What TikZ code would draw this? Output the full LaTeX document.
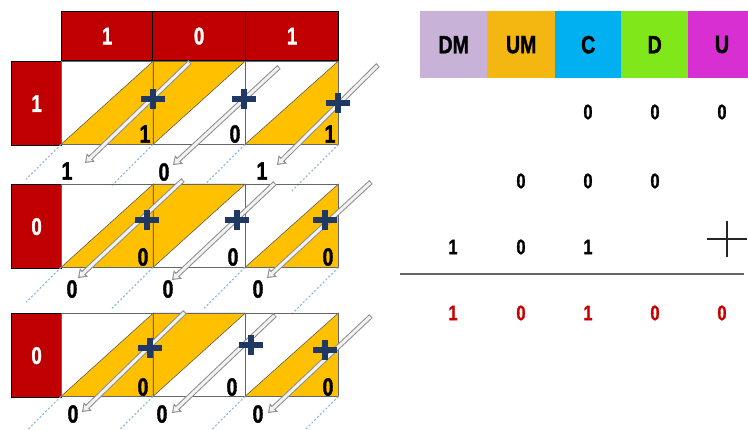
\documentclass[tikz,border=0pt]{standalone}
\usepackage{fontspec}
\setmainfont{Liberation Sans}[FakeStretch=0.78, BoldFeatures={FakeBold=1.3}]
\usetikzlibrary{arrows.meta}
\definecolor{hdrred}{HTML}{C00000}
\definecolor{cellor}{HTML}{FFC000}
\definecolor{navyc}{HTML}{1F3864}
\definecolor{dashblue}{HTML}{5B9BD5}
\definecolor{cDM}{HTML}{C8B2D8}
\definecolor{cUM}{HTML}{F4B610}
\definecolor{cC}{HTML}{00B0F0}
\definecolor{cD}{HTML}{80E81A}
\definecolor{cU}{HTML}{D82FD2}
\definecolor{resred}{HTML}{C80000}
\tikzset{
  redbox/.style={draw=black, line width=1.2pt, fill=hdrred, text=white,
    font=\bfseries\fontsize{24}{24}\selectfont, inner sep=0pt, anchor=north west},
  cellbox/.style={draw=none, minimum width=92pt, minimum height=83pt,
    inner sep=0pt, anchor=north west},
  tri/.style={fill=cellor, draw=black!70, line width=0.5pt},
  digit/.style={font=\bfseries\fontsize{25}{25}\selectfont, text=black, inner sep=0pt},
  tdigit/.style={font=\bfseries\fontsize{21}{21}\selectfont, text=black, inner sep=0pt},
  rdigit/.style={font=\bfseries\fontsize{21}{21}\selectfont, text=resred, inner sep=0pt},
  hdr/.style={font=\bfseries\fontsize{25}{25}\selectfont, text=black, inner sep=0pt,
    minimum height=67pt, anchor=north west},
  arrout/.style={line width=5pt, draw=black!45, -{Triangle[length=8pt,width=11pt]}},
  arrin/.style={line width=3pt, draw=gray!10, shorten >=1.8pt, shorten <=1pt,
    -{Triangle[length=5pt,width=7pt]}},
  dashln/.style={draw=dashblue!75, line width=1pt, dash pattern=on 2pt off 2pt},
  navyplus/.pic={\draw[navyc, line width=5.5pt] (-12,0) -- (12,0) (0,-10) -- (0,10);},
  thinplus/.pic={\draw[black!85, line width=1.5pt] (-20,0) -- (20,0) (0,-18) -- (0,18);}
}
\newcommand{\grayarrow}[2]{\draw[arrout] (#1) -- (#2); \draw[arrin] (#1) -- (#2);}
\begin{document}
\begin{tikzpicture}[x=1pt,y=-1pt]
\useasboundingbox (0,0) rectangle (748,429);
\fill[white] (0,0) rectangle (748,429);

% header
\node[redbox, minimum width=91pt, minimum height=49pt] (h1) at (61,11) {1};
\node[redbox, minimum width=93pt, minimum height=49pt] (h2) at (152,11) {0};
\node[redbox, minimum width=93pt, minimum height=49pt] (h3) at (245,11) {1};

% rows
\foreach \r/\y/\lab in {1/61/1, 2/184/0, 3/313/0}{
  \node[redbox, minimum width=50pt, minimum height=84pt] (l\r) at (11,\y) {\lab};
  \node[cellbox] (c\r1) at (61,\y) {};
  \node[cellbox] (c\r2) at (153,\y) {};
  \node[cellbox, minimum width=93pt] (c\r3) at (245,\y) {};
  \filldraw[tri] (c\r1.south west) -- (c\r1.north east) -- (c\r1.south east) -- cycle;
  \filldraw[tri] (c\r2.south west) -- (c\r2.north west) -- (c\r2.north east) -- cycle;
  \filldraw[tri] (c\r3.south west) -- (c\r3.north east) -- (c\r3.south east) -- cycle;
  \draw[gray!80!black, line width=0.8pt] (c\r1.north west) rectangle (c\r3.south east);
  \draw[gray!80!black, line width=0.8pt] (c\r2.north west) -- (c\r2.south west)
        (c\r3.north west) -- (c\r3.south west);
  \draw[dashln] (c\r1.south west) -- ++(-35,35);
  \draw[dashln] (c\r2.south west) -- ++(-42,42);
  \draw[dashln] (c\r3.south west) -- ++(-42,42);
  \draw[dashln] (c\r3.south east) -- ++(-48,48);
}

% cell digits
\node[digit] (d11) at (145,134) {1};
\node[digit] (d12) at (235,134) {0};
\node[digit] (d13) at (330,134) {1};
\node[digit] (d21) at (143,257) {0};
\node[digit] (d22) at (233,257) {0};
\node[digit] (d23) at (328,257) {0};
\node[digit] (d31) at (143,387) {0};
\node[digit] (d32) at (232,387) {0};
\node[digit] (d33) at (328,387) {0};

% bottom labels
\node[digit] (b11) at (67,171) {1};
\node[digit] (b12) at (164,172) {0};
\node[digit] (b13) at (262,171) {1};
\node[digit] (b21) at (72,289) {0};
\node[digit] (b22) at (168,289) {0};
\node[digit] (b23) at (258,289) {0};
\node[digit] (b31) at (73,414) {0};
\node[digit] (b32) at (162,414) {0};
\node[digit] (b33) at (258,414) {0};

% arrows
\coordinate (s11) at (190,62);  \coordinate (e11) at (85,163);
\coordinate (s12) at (279,67);  \coordinate (e12) at (173,165);
\coordinate (s13) at (378,65);  \coordinate (e13) at (277,165);
\coordinate (s21) at (183,180); \coordinate (e21) at (78,278);
\coordinate (s22) at (275,183); \coordinate (e22) at (172,280);
\coordinate (s23) at (371,182); \coordinate (e23) at (267,278);
\coordinate (s31) at (185,312); \coordinate (e31) at (82,412);
\coordinate (s32) at (275,315); \coordinate (e32) at (172,413);
\coordinate (s33) at (371,316); \coordinate (e33) at (268,413);
\foreach \i in {11,12,13,21,22,23,31,32,33}{\grayarrow{s\i}{e\i}}

% plus signs
\pic at (153,99) {navyplus};
\pic at (244,99) {navyplus};
\pic at (338,103) {navyplus};
\pic at (147,220) {navyplus};
\pic at (237,220) {navyplus};
\pic at (325,220) {navyplus};
\pic at (150,348) {navyplus};
\pic at (251,345) {navyplus};
\pic at (325,350) {navyplus};

% right table header
\node[hdr, fill=cDM, minimum width=67pt] (tDM) at (420,11) {DM};
\node[hdr, fill=cUM, minimum width=68pt] (tUM) at (487,11) {UM};
\node[hdr, fill=cC,  minimum width=66pt] (tC)  at (555,11) {C};
\node[hdr, fill=cD,  minimum width=67pt] (tD)  at (621,11) {D};
\node[hdr, fill=cU,  minimum width=60pt] (tU)  at (688,11) {};
\node[font=\bfseries\fontsize{25}{25}\selectfont, inner sep=0pt] (tUl) at (722,44.5) {U};

% table rows
\node[tdigit] (r1c) at (588,112) {0};
\node[tdigit] (r1d) at (655,112) {0};
\node[tdigit] (r1u) at (722,112) {0};
\node[tdigit] (r2um) at (521,181) {0};
\node[tdigit] (r2c) at (588,181) {0};
\node[tdigit] (r2d) at (655,181) {0};
\node[tdigit] (r3dm) at (453,247) {1};
\node[tdigit] (r3um) at (521,247) {0};
\node[tdigit] (r3c) at (588,247) {1};
\pic at (727,239) {thinplus};
\coordinate (lineL) at (400,274);
\coordinate (lineR) at (744,274);
\draw[black!60, line width=1.2pt] (lineL) -- (lineR);
\node[rdigit] (s1) at (453,313) {1};
\node[rdigit] (s2) at (521,313) {0};
\node[rdigit] (s3) at (588,313) {1};
\node[rdigit] (s4) at (655,313) {0};
\node[rdigit] (s5) at (722,313) {0};
\end{tikzpicture}
\end{document}
